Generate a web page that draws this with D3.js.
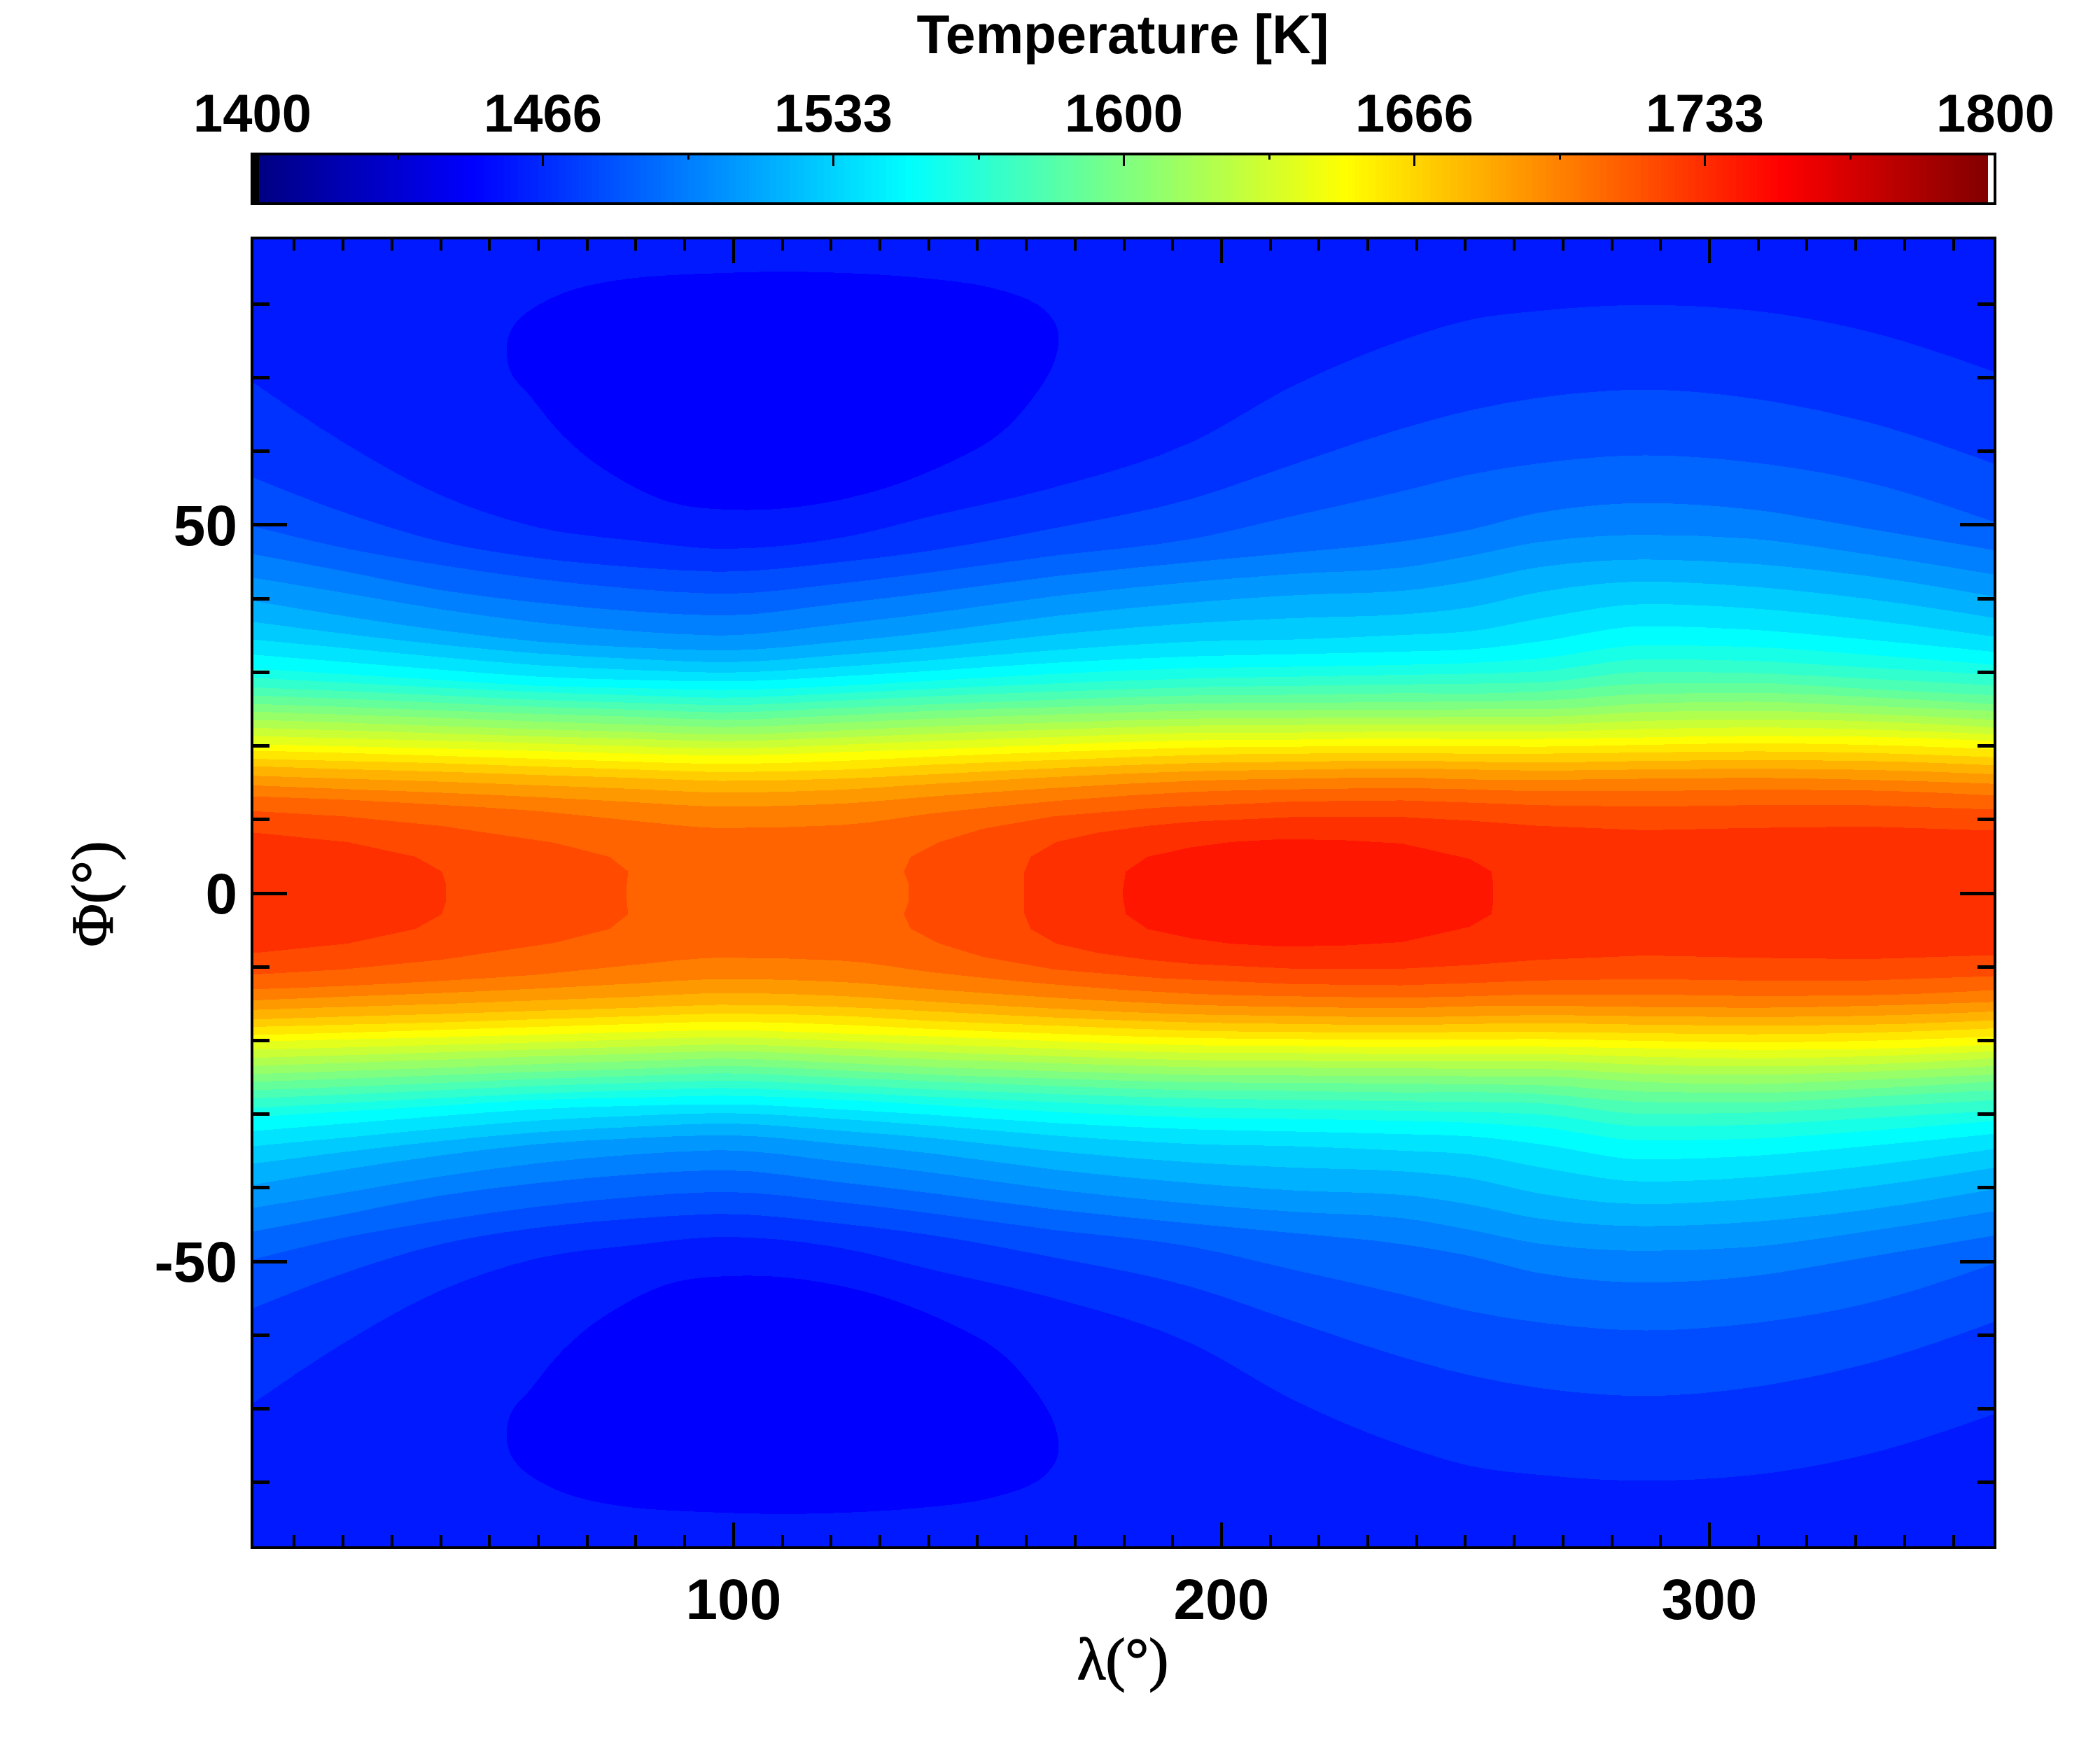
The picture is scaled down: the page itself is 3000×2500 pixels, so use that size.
<!DOCTYPE html>
<html>
<head>
<meta charset="utf-8">
<script src="https://cdn.jsdelivr.net/npm/d3@7"></script>
<style>
    html, body { margin: 0; padding: 0; background: #fff; }
    text { font-family: "Liberation Sans", Arial, sans-serif; font-weight: bold; fill: #000; }
    .sym { font-family: "Liberation Serif", serif; font-weight: normal; stroke: #000; stroke-width: 1.5px; }
</style>
</head>
<body>
<svg id="chart" width="3000" height="2500"></svg>
<script>
// longitudes where the contour latitudes were read
var lons = [1.4, 20, 40, 60, 80, 98, 122, 141, 165, 194, 215, 237, 251, 265, 287, 308, 332, 358.6]

// latitude of each temperature contour, northern side (the map is mirrored about the equator)
var lat1470 = [69.4, 61.2, 54, 49.6, 47.8, 46.7, 48.2, 51.2, 54.9, 61.2, 68.9, 75, 77.8, 79, 79.8, 79.1, 76.3, 70.7]
var lat1480 = [56.45, 51.7, 47.7, 45.45, 44.2, 43.6, 44.9, 46.5, 49.4, 53.5, 58.2, 63, 65.5, 67.2, 68.3, 67.2, 64, 58.2]
var lat1490 = [49.8, 46.85, 44.5, 42.6, 41.25, 40.6, 42, 43.55, 45.7, 48.05, 51.2, 54.5, 56.8, 58.3, 59.4, 58.5, 55.8, 50.3]
var lat1500 = [46, 43.7, 41.1, 39.4, 38.2, 37.65, 39.3, 40.8, 42.9, 44.9, 46.2, 47.7, 49.3, 51.6, 52.9, 52.1, 49.5, 46.5]
var lat1510 = [42.8, 40.75, 38.5, 36.7, 35.5, 34.95, 36.5, 38, 40.2, 42.2, 43.3, 44.15, 45.75, 47.6, 48.6, 48.1, 46, 43.2]
var lat1520 = [39.65, 37.6, 35.65, 34.1, 33.3, 32.9, 34.1, 35.4, 37.5, 39.4, 40.4, 41, 42.3, 44.2, 45.25, 44.7, 43.05, 40.2]
var lat1530 = [36.8, 35.2, 33.7, 32.5, 31.75, 31.3, 32.3, 33.3, 35, 36.6, 37.3, 37.8, 38.75, 40.8, 42.25, 41.6, 39.95, 37.3]
var lat1540 = [34.4, 33.25, 32, 30.9, 30.25, 29.9, 30.7, 31.6, 32.9, 34.1, 34.4, 35, 35.5, 37.2, 39.2, 38.65, 37.1, 34.75]
var lat1550 = [32.35, 31.35, 30.3, 29.35, 28.9, 28.7, 29.4, 30.15, 31.2, 32.1, 32.4, 32.75, 33.05, 34.1, 36.2, 35.75, 34.4, 32.7]
var lat1560 = [30.45, 29.7, 28.9, 28.1, 27.8, 27.55, 28.1, 28.8, 29.7, 30.5, 30.7, 30.95, 31.2, 31.8, 33.6, 33.4, 32.35, 30.95]
var lat1570 = [29.2, 28.55, 27.85, 27.25, 26.8, 26.5, 27.1, 27.7, 28.4, 29.1, 29.35, 29.6, 29.75, 30.05, 31.7, 31.5, 30.6, 29.6]
var lat1580 = [27.9, 27.4, 26.8, 26.2, 25.8, 25.5, 26.1, 26.7, 27.3, 27.9, 28.1, 28.3, 28.4, 28.55, 30, 29.85, 29.1, 28.15]
var lat1590 = [26.8, 26.35, 25.8, 25.25, 24.85, 24.5, 25.1, 25.6, 26.2, 26.8, 26.9, 27.1, 27.05, 27.3, 28.4, 28.5, 27.7, 26.8]
var lat1600 = [25.65, 25.25, 24.75, 24.3, 23.9, 23.5, 24.1, 24.7, 25.2, 25.7, 25.8, 25.9, 26, 26.1, 27, 27.15, 26.6, 25.6]
var lat1610 = [24.6, 24.2, 23.75, 23.25, 22.85, 22.5, 23.1, 23.65, 24.2, 24.7, 24.8, 24.85, 24.9, 24.9, 25.7, 25.95, 25.4, 24.65]
var lat1620 = [23.5, 23.1, 22.65, 22.2, 21.85, 21.5, 22.05, 22.6, 23.1, 23.65, 23.75, 23.8, 23.9, 23.9, 24.55, 24.7, 24.3, 23.5]
var lat1630 = [22.4, 22.05, 21.65, 21.25, 20.9, 20.6, 21.1, 21.6, 22.15, 22.7, 22.8, 22.85, 22.85, 22.85, 23.35, 23.55, 23.3, 22.45]
var lat1640 = [21.3, 21, 20.65, 20.3, 19.9, 19.6, 20.1, 20.6, 21.15, 21.7, 21.75, 21.9, 21.9, 21.9, 22.25, 22.45, 22.2, 21.5]
var lat1650 = [20.2, 19.9, 19.6, 19.25, 18.9, 18.65, 19.1, 19.5, 20.1, 20.7, 20.8, 21, 20.85, 20.9, 21.1, 21.3, 21.2, 20.6]
var lat1660 = [19.3, 19, 18.6, 18.2, 17.8, 17.5, 17.9, 18.5, 19.1, 19.7, 19.85, 19.95, 19.9, 19.85, 20.1, 20.3, 20.1, 19.5]
var lat1670 = [18.2, 17.9, 17.6, 17.15, 16.75, 16.4, 16.7, 17.4, 18, 18.7, 18.9, 18.95, 18.9, 18.9, 19.05, 19.2, 19, 18.4]
var lat1680 = [17.2, 16.8, 16.45, 16, 15.6, 15.2, 15.5, 16.1, 16.9, 17.6, 17.8, 17.95, 17.8, 17.7, 17.9, 18, 17.9, 17.3]
var lat1690 = [15.9, 15.5, 15.1, 14.6, 14.1, 13.6, 14, 14.8, 15.7, 16.5, 16.7, 16.9, 16.75, 16.6, 16.75, 16.85, 16.7, 16.1]
var lat1700 = [14.6, 14.1, 13.6, 13, 12.3, 11.7, 12.1, 13.1, 14.2, 15.2, 15.5, 15.65, 15.4, 15.35, 15.5, 15.6, 15.35, 14.8]
var lat1710 = [13.1, 12.65, 11.95, 11.1, 9.75, 8.8, 9.2, 10.8, 12.4, 13.7, 14.05, 14.2, 14.05, 13.8, 13.8, 14, 13.9, 13.2]

var levels = [
    [1470, lat1470], [1480, lat1480], [1490, lat1490], [1500, lat1500], [1510, lat1510],
    [1520, lat1520], [1530, lat1530], [1540, lat1540], [1550, lat1550], [1560, lat1560],
    [1570, lat1570], [1580, lat1580], [1590, lat1590], [1600, lat1600], [1610, lat1610],
    [1620, lat1620], [1630, lat1630], [1640, lat1640], [1650, lat1650], [1660, lat1660],
    [1670, lat1670], [1680, lat1680], [1690, lat1690], [1700, lat1700], [1710, lat1710]
]

// closed warm patches on the equator: they have their own longitudes
var hot1720aLon = [1.4, 20, 40, 63.3, 74.7, 78.5, 78.2, 78.2]
var hot1720aLat = [11.1, 10.4, 9.1, 6.8, 4.9, 2.9, 1.1, 0]
var hot1720bLon = [136, 136, 135, 136.4, 142.3, 151.2, 165.8, 187.8, 215, 237, 251, 265, 287, 308, 332, 358.6]
var hot1720bLat = [0, 1.1, 2.9, 4.9, 6.9, 8.7, 10.4, 11.6, 12.4, 12.55, 12.25, 11.9, 11.7, 11.9, 11.9, 11.3]
var hot1730aLon = [1.4, 20.9, 34.9, 40.3, 41.2, 41.2]
var hot1730aLat = [8.2, 6.9, 4.9, 2.9, 1.1, 0]
var hot1730bLon = [159.7, 159.7, 161, 166.2, 175, 185, 194, 215, 237, 251, 265, 287, 308, 332, 358.6]
var hot1730bLat = [0, 2.9, 4.9, 6.9, 8.2, 9.1, 9.65, 10.3, 10.3, 9.8, 9.1, 8.5, 8.8, 9, 8.45]
var hot1740Lon = [179.8, 180, 180.5, 184.9, 194, 202, 212.6, 225, 237, 251, 255.4, 255.8, 255.8]
var hot1740Lat = [0, 1.1, 2.9, 4.9, 6.2, 6.9, 7.3, 7.15, 6.7, 4.6, 2.9, 1.1, 0]

var hotPatches = [
    [1720, hot1720aLon, hot1720aLat], [1720, hot1720bLon, hot1720bLat],
    [1730, hot1730aLon, hot1730aLat], [1730, hot1730bLon, hot1730bLat],
    [1740, hot1740Lon, hot1740Lat]
]

// cold lobe (below 1460 K), northern one, walked around clockwise
var lobeLon = [53.6, 54.1, 56.3, 61, 67.8, 78.8, 98, 114.5, 136.5, 152.9, 162.5, 166.1, 166.7, 165.3, 159.8, 154.3, 147.4, 131, 114.5, 100.8, 87, 73.3, 65, 58.2, 54.7]
var lobeLat = [73.05, 75.8, 78, 80.15, 82, 83.4, 84.15, 84.3, 83.6, 82.15, 79.8, 77.2, 74.9, 71.25, 65.8, 62.15, 59.4, 54.9, 52.5, 52, 53.05, 57.6, 62.15, 67.6, 70.3]

var baseLevel = 1460, lobeLevel = 1450

// axis ticks and labels
var xMajor = [100, 200, 300]
var xMinor = [10, 20, 30, 40, 50, 60, 70, 80, 90, 110, 120, 130, 140, 150, 160, 170, 180, 190, 210, 220, 230, 240, 250, 260, 270, 280, 290, 310, 320, 330, 340, 350]
var yMajor = [-50, 0, 50]
var yMinor = [-80, -70, -60, -40, -30, -20, -10, 10, 20, 30, 40, 60, 70, 80]
var barLabels = ["1400", "1466", "1533", "1600", "1666", "1733", "1800"]

// rainbow table, by colour index
var jetIndex = [0, 32, 96, 160, 224, 255]
var jetColor = ["#000080", "#0000ff", "#00ffff", "#ffff00", "#ff0000", "#800000"]

var left = 360, right = 2850, top_ = 340, bottom = 2211
var barTop = 220, barBottom = 291

var svg = d3.select("#chart")

var x = d3.scaleLinear().domain([1.4, 358.6]).range([left, right])
var y = d3.scaleLinear().domain([-88.9, 88.9]).range([bottom, top_])
var jet = d3.scaleLinear().domain(jetIndex).range(jetColor)
// colour index the bands were filled with
var tempIndex = d3.scaleLinear().domain([1400, 1650, 1800]).range([0, 159.4, 258])
function bandColor(t) { return jet(tempIndex(t)) }

svg.append("clipPath").attr("id", "plotclip").append("rect")
    .attr("x", left).attr("y", top_).attr("width", right - left).attr("height", bottom - top_)

var map = svg.append("g").attr("clip-path", "url(#plotclip)").attr("shape-rendering", "crispEdges")

map.append("rect")
    .attr("x", left).attr("y", top_).attr("width", right - left).attr("height", bottom - top_)
    .attr("fill", bandColor(baseLevel))

// cold lobes, north and south
var lobeLine = d3.line().curve(d3.curveCatmullRomClosed.alpha(0.5))
    .x(function (d) { return x(d[0]) })
    .y(function (d) { return y(d[1]) })
var lobe = d3.zip(lobeLon, lobeLat)
map.selectAll("path.lobe")
    .data([lobe, lobe.map(function (d) { return [d[0], -d[1]] })])
    .enter().append("path")
    .attr("class", "lobe")
    .attr("d", lobeLine)
    .attr("fill", bandColor(lobeLevel))

// every band is the strip between a contour and its mirror image
var band = d3.area().curve(d3.curveMonotoneX)
    .x(function (d) { return x(d[0]) })
    .y0(function (d) { return y(-d[1]) })
    .y1(function (d) { return y(d[1]) })

levels.forEach(function (l) {
    map.append("path")
        .attr("d", band(d3.zip(lons, l[1])))
        .attr("fill", bandColor(l[0]))
})

var patch = d3.area()
    .x(function (d) { return x(d[0]) })
    .y0(function (d) { return y(-d[1]) })
    .y1(function (d) { return y(d[1]) })

hotPatches.forEach(function (p) {
    map.append("path")
        .attr("d", patch(d3.zip(p[1], p[2])))
        .attr("fill", bandColor(p[0]))
})

// frame and ticks of the map
function drawAxis(gen, tx, ty, width) {
    var g = svg.append("g").attr("transform", "translate(" + tx + "," + ty + ")").call(gen)
    g.select(".domain").remove()
    g.selectAll("line").attr("stroke", "#000").attr("stroke-width", width).attr("shape-rendering", "crispEdges")
    return g
}

var noLabel = function () { return "" }
drawAxis(d3.axisBottom(x).tickValues(xMinor).tickSize(-18).tickFormat(noLabel), 0, bottom, 4)
drawAxis(d3.axisTop(x).tickValues(xMinor).tickSize(-18).tickFormat(noLabel), 0, top_, 4)
drawAxis(d3.axisTop(x).tickValues(xMajor).tickSize(-36).tickFormat(noLabel), 0, top_, 4)
drawAxis(d3.axisRight(y).tickValues(yMinor).tickSize(-25).tickFormat(noLabel), right, 0, 5)
drawAxis(d3.axisLeft(y).tickValues(yMinor).tickSize(-25).tickFormat(noLabel), left, 0, 5)
drawAxis(d3.axisRight(y).tickValues(yMajor).tickSize(-50).tickFormat(noLabel), right, 0, 5)

drawAxis(d3.axisBottom(x).tickValues(xMajor).tickSize(-36).tickPadding(44), 0, bottom, 4)
    .selectAll("text").style("font-size", "82px")
drawAxis(d3.axisLeft(y).tickValues(yMajor).tickSize(-50).tickPadding(21).tickFormat(String), left, 0, 5)
    .selectAll("text").style("font-size", "82px").attr("dy", "0.355em")

svg.append("rect")
    .attr("x", left).attr("y", top_).attr("width", right - left).attr("height", bottom - top_)
    .attr("fill", "none").attr("stroke", "#000").attr("stroke-width", 4)

// colour bar: first entry of the table is black, last one is white
var barX = d3.scaleLinear().domain([0, 256]).range([left, right])
svg.append("g").attr("shape-rendering", "crispEdges")
    .selectAll("rect")
    .data(d3.range(256))
    .enter().append("rect")
    .attr("x", function (i) { return barX(i) })
    .attr("width", function (i) { return barX(i + 1) - barX(i) + 0.5 })
    .attr("y", barTop).attr("height", barBottom - barTop)
    .attr("fill", function (i) { return i == 0 ? "#000" : i == 255 ? "#fff" : jet(i) })

var barScale = d3.scalePoint().domain(barLabels).range([left, right])
var barMinor = d3.scaleLinear().domain([0, 12]).range([left, right])
var minorPositions = d3.range(1, 12, 2).map(barMinor)

drawAxis(d3.axisTop(d3.scaleIdentity()).tickValues(minorPositions).tickSize(-8).tickFormat(noLabel), 0, barTop, 3)
drawAxis(d3.axisTop(barScale).tickSize(-17).tickPadding(32), 0, barTop, 3)
    .selectAll("text").style("font-size", "76px")

svg.append("rect")
    .attr("x", left).attr("y", barTop).attr("width", right - left).attr("height", barBottom - barTop)
    .attr("fill", "none").attr("stroke", "#000").attr("stroke-width", 4)

// titles
svg.append("text")
    .attr("x", 1604).attr("y", 76)
    .attr("text-anchor", "middle")
    .style("font-size", "77px")
    .text("Temperature [K]")

svg.append("text")
    .attr("class", "sym")
    .attr("x", 1604).attr("y", 2399)
    .attr("text-anchor", "middle")
    .style("font-size", "84px")
    .text("λ(°)")

svg.append("text")
    .attr("class", "sym")
    .attr("transform", "translate(161,1277) rotate(-90)")
    .attr("text-anchor", "middle")
    .style("font-size", "84px")
    .text("Φ(°)")
</script>
</body>
</html>
